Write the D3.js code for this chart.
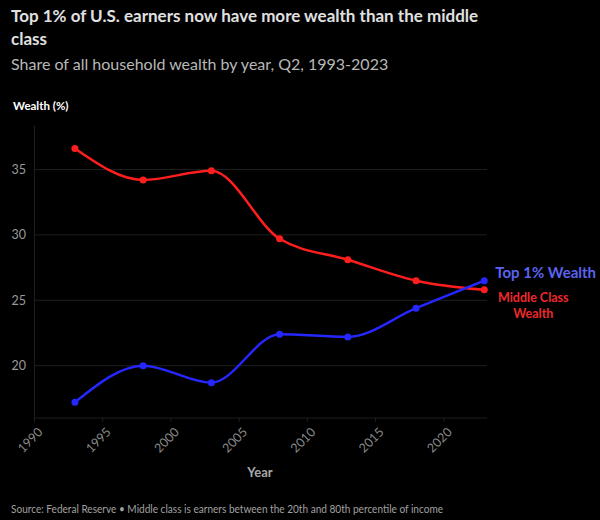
<!DOCTYPE html>
<html>
<head>
<meta charset="utf-8">
<script src="https://cdn.jsdelivr.net/npm/d3@7"></script>
<style>
  body { margin: 0; background: #000; }
  svg { display: block; }
</style>
</head>
<body>
<div id="chart"></div>
<script>
// data
const years = [1993, 1998, 2003, 2008, 2013, 2018, 2023];
const middleClass = [36.6, 34.2, 34.9, 29.7, 28.1, 26.5, 25.8];
const top1 = [17.2, 20.0, 18.7, 22.4, 22.2, 24.4, 26.5];
const xTicks = [1990, 1995, 2000, 2005, 2010, 2015, 2020];
const yTicks = [20, 25, 30, 35];

const W = 600, H = 520;
const margin = {top: 125, right: 113, bottom: 102, left: 34},
    width = W - margin.left - margin.right,
    height = H - margin.top - margin.bottom;

const svg = d3.select("#chart")
  .append("svg")
    .attr("width", W)
    .attr("height", H)
    .style("background", "#000");

const font = "Lato, 'Open Sans', sans-serif";

// titles
svg.append("text")
  .attr("x", 11).attr("y", 22)
  .attr("fill", "#e0e0e0")
  .style("font", `bold 17px ${font}`)
  .text("Top 1% of U.S. earners now have more wealth than the middle");
svg.append("text")
  .attr("x", 11).attr("y", 45)
  .attr("fill", "#e0e0e0")
  .style("font", `bold 17px ${font}`)
  .text("class");
svg.append("text")
  .attr("x", 11).attr("y", 70)
  .attr("fill", "#b8b8b8")
  .style("font", `16px ${font}`)
  .text("Share of all household wealth by year, Q2, 1993-2023");

const g = svg.append("g")
  .attr("transform", `translate(${margin.left}, ${margin.top})`);

const x = d3.scaleLinear()
  .domain([1990, 2023.2])
  .range([0, 453]);

const y = d3.scaleLinear()
  .domain([16, 38.4])
  .range([height, 0]);

// grid
g.selectAll(".grid")
  .data(yTicks)
  .join("line")
    .attr("x1", 0).attr("x2", width - 0)
    .attr("y1", d => y(d)).attr("y2", d => y(d))
    .attr("stroke", "#1e1e1e")
    .attr("stroke-width", 1);

// y axis
const yAxis = g.append("g")
  .call(d3.axisLeft(y).tickValues(yTicks).tickSize(0).tickPadding(8));
yAxis.select(".domain").attr("stroke", "#1e1e1e");
yAxis.selectAll("text")
  .attr("fill", "#9a9a9a")
  .style("font", `12.5px ${font}`);

// x axis
const xAxis = g.append("g")
  .attr("transform", `translate(0, ${height})`)
  .call(d3.axisBottom(x).tickValues(xTicks).tickFormat(d3.format("d")).tickSizeOuter(0).tickSize(4));
xAxis.select(".domain").attr("stroke", "#1e1e1e").attr("d", `M0,0H${width}`);
xAxis.selectAll(".tick line").attr("stroke", "#1e1e1e");
xAxis.selectAll("text")
  .attr("fill", "#8a8a8a")
  .style("font", `12.5px ${font}`)
  .attr("text-anchor", "end")
  .attr("dx", "0")
  .attr("dy", "0")
  .attr("transform", "translate(4,10) rotate(-45)");

// axis titles
svg.append("text")
  .attr("x", 13).attr("y", 110)
  .attr("fill", "#ffffff")
  .style("font", `bold 11.5px ${font}`)
  .text("Wealth (%)");
svg.append("text")
  .attr("x", 260).attr("y", 477)
  .attr("text-anchor", "middle")
  .attr("fill", "#a8a8a8")
  .style("font", `bold 13px ${font}`)
  .text("Year");

// lines
const series = [
  {name: "middle", values: middleClass, color: "#ff1e1e"},
  {name: "top1", values: top1, color: "#2626ff"}
];

const line = d3.line()
  .x(d => x(d[0]))
  .y(d => y(d[1]))
  .curve(d3.curveMonotoneX);

series.forEach(s => {
  const pts = years.map((yr, i) => [yr, s.values[i]]);
  g.append("path")
    .datum(pts)
    .attr("fill", "none")
    .attr("stroke", s.color)
    .attr("stroke-width", 2.5)
    .attr("d", line);
  g.selectAll(".pt-" + s.name)
    .data(pts)
    .join("circle")
      .attr("cx", d => x(d[0]))
      .attr("cy", d => y(d[1]))
      .attr("r", 3.5)
      .attr("fill", s.color);
});

// end labels
const lx = margin.left + x(2023);
svg.append("text")
  .attr("x", lx + 11).attr("y", margin.top + y(top1[6]) - 3)
  .attr("fill", "#5b63f0")
  .style("font", `bold 15px ${font}`)
  .text("Top 1% Wealth");
const mc = svg.append("text")
  .attr("x", lx + 49).attr("y", margin.top + y(middleClass[6]) + 12)
  .attr("text-anchor", "middle")
  .attr("fill", "#f0282d")
  .style("font", `bold 12.5px ${font}`);
mc.append("tspan").attr("x", lx + 49).text("Middle Class");
mc.append("tspan").attr("x", lx + 49).attr("dy", 16).text("Wealth");

// source
svg.append("text")
  .attr("x", 11).attr("y", 513)
  .attr("fill", "#a0a0a0")
  .style("font", `11.5px ${font}`)
  .attr("textLength", 432)
  .attr("lengthAdjust", "spacingAndGlyphs")
  .text("Source: Federal Reserve • Middle class is earners between the 20th and 80th percentile of income");
</script>
</body>
</html>
